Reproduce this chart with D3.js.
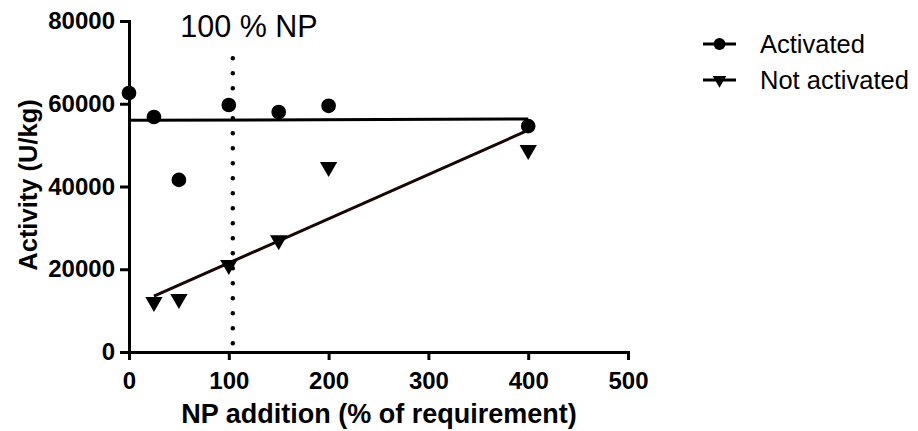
<!DOCTYPE html>
<html>
<head>
<meta charset="utf-8">
<script src="https://cdn.jsdelivr.net/npm/d3@7"></script>
<style>
  body { margin: 0; background: #fff; }
  svg { font-family: Arial, "Liberation Sans", sans-serif; }
  .axis path, .axis line { stroke: #000; stroke-width: 3; }
  .axis text { font-size: 24px; font-weight: bold; fill: #000; }
</style>
</head>
<body>
<svg id="chart" width="918" height="431"></svg>
<script>
// data
var xValues = [0, 25, 50, 100, 150, 200, 400];
var activated = [62600, 56800, 41600, 59700, 58000, 59500, 54600];
var notActXValues = [25, 50, 100, 150, 200, 400];
var notActivated = [12100, 12800, 21000, 27000, 44700, 48800];
// fitted lines (end points)
var activatedFit = [[0, 56000], [400, 56300]];
var notActivatedFit = [[25, 13500], [400, 53600]];
var npLineX = 104;
var npLineY = [71000, 2100];
var xTicks = [0, 100, 200, 300, 400, 500];
var yTicks = [0, 20000, 40000, 60000, 80000];
var seriesNames = ["Activated", "Not activated"];

const svg = d3.select("#chart");

// Scale.
const x = d3.scaleLinear().domain([0, 500]).range([129, 628]);
const y = d3.scaleLinear().domain([0, 80000]).range([352, 21]);

var xAxis = d3.axisBottom(x)
    .tickValues(xTicks)
    .tickSizeInner(8)
    .tickSizeOuter(0)
    .tickPadding(12)
    .tickFormat(d3.format("d"));

svg.append("g")
    .attr("class", "axis")
    .attr("transform", "translate(0," + y(0) + ")")
    .call(xAxis);

var yAxis = d3.axisLeft(y)
    .tickValues(yTicks)
    .tickSizeInner(9)
    .tickSizeOuter(0)
    .tickPadding(5)
    .tickFormat(d3.format("d"));

svg.append("g")
    .attr("class", "axis")
    .attr("transform", "translate(" + x(0) + ",0)")
    .call(yAxis);

svg.selectAll(".axis path").attr("stroke-linecap", "square");

// axis titles
svg.append("text")
    .attr("x", 379).attr("y", 423)
    .attr("text-anchor", "middle")
    .style("font-size", "27px").style("font-weight", "bold")
    .text("NP addition (% of requirement)");

svg.append("text")
    .attr("transform", "translate(37,185) rotate(-90)")
    .attr("text-anchor", "middle")
    .style("font-size", "25.5px").style("font-weight", "bold")
    .text("Activity (U/kg)");

// dotted 100% NP line
svg.append("line")
    .attr("x1", x(npLineX)).attr("x2", x(npLineX))
    .attr("y1", y(npLineY[0])).attr("y2", y(npLineY[1]))
    .attr("stroke", "#000")
    .attr("stroke-width", 4.5)
    .attr("stroke-linecap", "round")
    .attr("stroke-dasharray", "0,15");

svg.append("text")
    .attr("x", 249).attr("y", 37)
    .attr("text-anchor", "middle")
    .style("font-size", "30.5px")
    .text("100 % NP");

// fitted lines
const line = d3.line().x(d => x(d[0])).y(d => y(d[1]));
svg.append("path")
    .attr("d", line(activatedFit))
    .attr("fill", "none").attr("stroke", "#000").attr("stroke-width", 3);
svg.append("path")
    .attr("d", line(notActivatedFit))
    .attr("fill", "none").attr("stroke", "#1a0505").attr("stroke-width", 3);

// markers
const circleSym = d3.symbol().type(d3.symbolCircle).size(170);
const triSym = d3.symbol().type(d3.symbolTriangle).size(130);

svg.selectAll(".act")
  .data(xValues.map((d, i) => [d, activated[i]]))
  .enter()
  .append("path")
    .attr("class", "act")
    .attr("d", circleSym)
    .attr("transform", d => "translate(" + x(d[0]) + "," + y(d[1]) + ")");

svg.selectAll(".notact")
  .data(notActXValues.map((d, i) => [d, notActivated[i]]))
  .enter()
  .append("path")
    .attr("class", "notact")
    .attr("d", triSym)
    .attr("transform", d => "translate(" + x(d[0]) + "," + y(d[1]) + ") rotate(180)");

// legend
const legend = svg.append("g").attr("transform", "translate(703,44)");
seriesNames.forEach(function(name, i) {
  const g = legend.append("g").attr("transform", "translate(0," + (i * 36) + ")");
  g.append("line").attr("x1", 0).attr("x2", 33).attr("y1", 0).attr("y2", 0)
    .attr("stroke", "#000").attr("stroke-width", 3);
  g.append("path")
    .attr("d", i === 0 ? d3.symbol().type(d3.symbolCircle).size(110)() : d3.symbol().type(d3.symbolTriangle).size(80)())
    .attr("transform", "translate(16.5,0)" + (i === 0 ? "" : " rotate(180)"));
  g.append("text").attr("x", 57).attr("y", 9)
    .style("font-size", "25.5px")
    .text(name);
});
</script>
</body>
</html>
